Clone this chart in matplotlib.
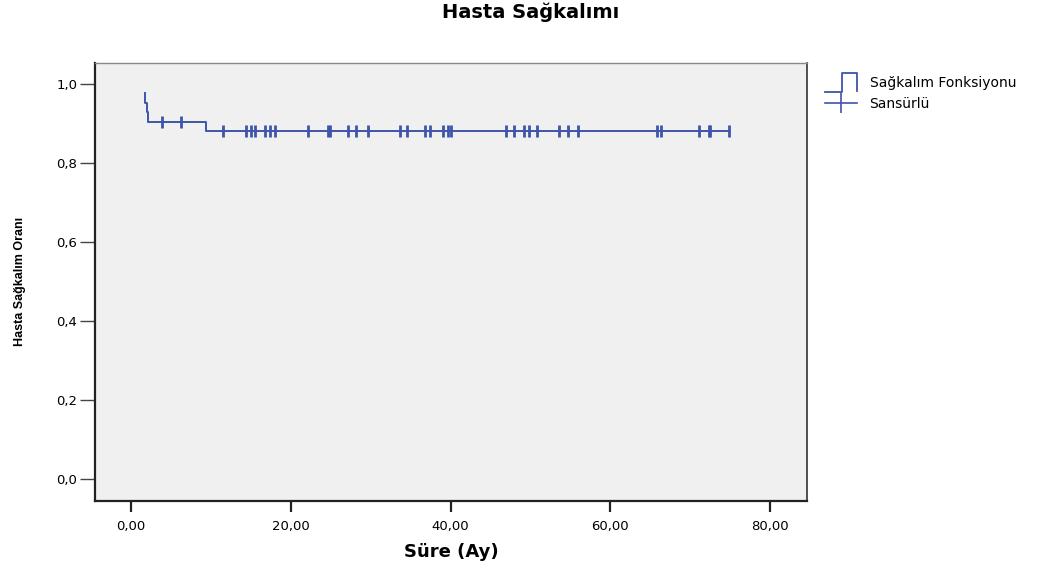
import numpy as np
import matplotlib
matplotlib.use("Agg")
import matplotlib.pyplot as plt
from matplotlib.lines import Line2D
from matplotlib.legend_handler import HandlerBase
from matplotlib.ticker import FuncFormatter

# Kaplan-Meier values
start_time = 1.75
start_surv = 0.976
event_times = [1.75, 1.95, 2.10, 9.35]
surv_after = [0.952, 0.929, 0.905, 0.880]
censor_times = [3.84, 6.26, 11.47, 14.39, 15.02, 15.56, 16.81, 17.43, 18.02,
                22.11, 24.70, 24.90, 27.20, 28.12, 29.62, 33.67, 34.59, 36.84,
                37.47, 39.10, 39.70, 40.00, 46.96, 48.00, 49.20, 49.85, 50.85,
                53.60, 54.70, 55.98, 65.90, 66.30, 71.10, 72.30, 72.45, 74.90]
x_ticks = [0, 20, 40, 60, 80]
y_ticks = [0.0, 0.2, 0.4, 0.6, 0.8, 1.0]

BLUE = '#3e55aa'
BG = '#f0f0f0'


class StepHandler(HandlerBase):
    def create_artists(self, legend, orig_handle, xdescent, ydescent,
                       width, height, fontsize, trans):
        x0 = -xdescent
        y0 = -ydescent - 0.45 * height
        y1 = -ydescent + 1.45 * height
        xs = [x0, x0 + 0.52 * width, x0 + 0.52 * width, x0 + width, x0 + width]
        ys = [y0, y0, y1, y1, y0 + 0.05 * height]
        ln = Line2D(xs, ys, color=BLUE, lw=1.3, transform=trans)
        return [ln]


fig = plt.figure(figsize=(10.62, 5.74), dpi=100)
ax = fig.add_axes([0.0895, 0.1277, 0.670, 0.7631])
ax.set_facecolor(BG)

# step curve
xs = [start_time] + event_times + [censor_times[-1]]
ys = [start_surv] + surv_after + [surv_after[-1]]
ax.step(xs, ys, where='post', color=BLUE, lw=1.4)

# censored marks sit on the curve
idx = np.searchsorted(event_times, censor_times, side='right') - 1
cens_y = np.where(idx >= 0, np.array(surv_after)[np.clip(idx, 0, None)], start_surv)
ax.plot(censor_times, cens_y, ls='none', marker='|', ms=8, mew=2, color=BLUE)

ax.set_xlim(-4.5, 84.57)
ax.set_ylim(-0.055, 1.054)
ax.set_xticks(x_ticks)
ax.set_yticks(y_ticks)
ax.xaxis.set_major_formatter(FuncFormatter(lambda v, p: f"{v:.2f}".replace('.', ',')))
ax.yaxis.set_major_formatter(FuncFormatter(lambda v, p: f"{v:.1f}".replace('.', ',')))
ax.tick_params(axis='x', direction='out', length=8, width=1.6, color='#222222',
               labelsize=9.5, pad=6)
ax.tick_params(axis='y', direction='out', length=10.8, width=1.0, color='#444444',
               labelsize=9.5, pad=2)
for lab in ax.get_xticklabels() + ax.get_yticklabels():
    lab.set_family('DejaVu Sans')

ax.spines['left'].set_linewidth(1.6)
ax.spines['bottom'].set_linewidth(1.6)
ax.spines['left'].set_color('#222222')
ax.spines['bottom'].set_color('#222222')
ax.spines['top'].set_linewidth(1.0)
ax.spines['top'].set_color('#888888')
ax.spines['right'].set_linewidth(1.2)
ax.spines['right'].set_color('#333333')

ax.set_xlabel('Süre (Ay)', fontsize=13, fontweight='bold',
              family='DejaVu Sans', labelpad=7)
ax.set_ylabel('Hasta Sağkalım Oranı', fontsize=9, fontweight='bold',
              family=['Liberation Sans Narrow', 'Liberation Sans'], labelpad=22)

fig.text(0.5, 0.978, 'Hasta Sağkalımı', ha='center', va='center',
         fontsize=14, fontweight='bold', family='DejaVu Sans')

step_handle = Line2D([], [], color=BLUE)
cens_handle = Line2D([], [], color=BLUE, lw=1.2, marker='|', ms=15, mew=1.2)
leg = fig.legend([step_handle, cens_handle], ['Sağkalım Fonksiyonu', 'Sansürlü'],
                 handler_map={step_handle: StepHandler()},
                 loc='upper left', bbox_to_anchor=(0.777, 0.867),
                 frameon=False, borderpad=0, borderaxespad=0,
                 handlelength=2.3, handletextpad=0.9, labelspacing=0.45,
                 prop={'family': 'DejaVu Sans', 'size': 10})

fig.savefig('out.png', dpi=100, facecolor='white')
